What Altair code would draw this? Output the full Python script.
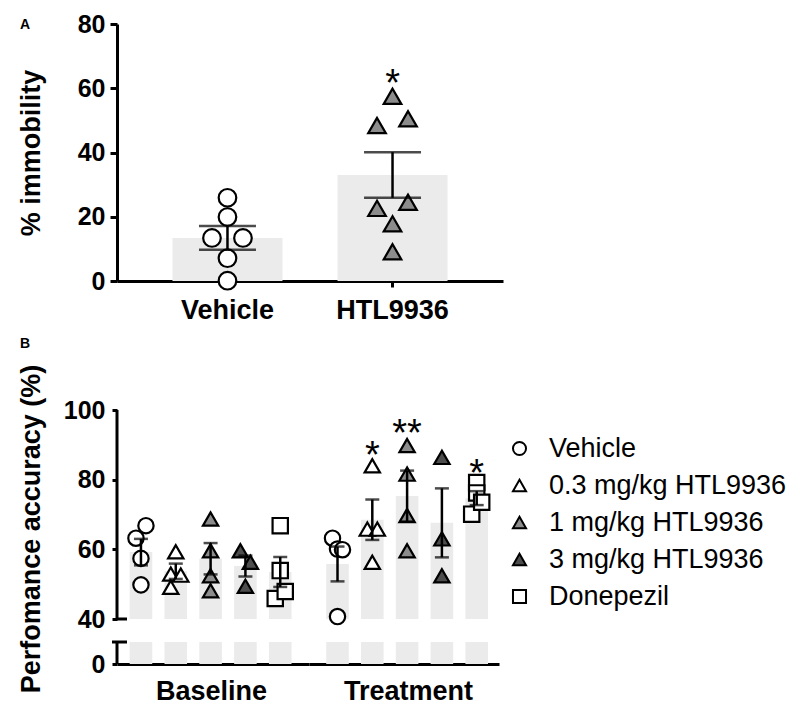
import altair as alt
import pandas as pd

FONT = "Liberation Sans"
BAR_COLOR = "#ebebeb"
MID_GRAY = "#8c8c8c"
DARK_GRAY = "#4d4d4d"

# ---------------- Panel A data ----------------
groups_a = ["Vehicle", "HTL9936"]
mean_a = [13.4, 33.0]
sem_a = [3.7, 7.1]
vehicle_a = [25.9, 19.9, 13.4, 13.4, 7.1, 0.1]
vehicle_a_slot = [0, 0, -1, 1, 0, 0]
htl_a = [57.5, 50.5, 48.4, 22.6, 24.5, 17.8, 9.1]
htl_a_slot = [0, 1, -1, -1, 1, 0, 0]
stars_a = ["", "*"]
stars_a_y = [None, 64.5]

# ---------------- Panel B data ----------------
phases = ["Baseline", "Treatment"]
treatments = ["Vehicle", "0.3 mg/kg HTL9936", "1 mg/kg HTL9936",
              "3 mg/kg HTL9936", "Donepezil"]
mean_base = [59.2, 53.7, 57.3, 55.2, 53.5]
sem_base = [3.8, 2.2, 4.5, 3.0, 4.3]
mean_treat = [55.8, 68.5, 75.3, 67.6, 74.7]
sem_treat = [5.0, 5.8, 7.3, 9.9, 2.0]
pts_base = [
    [66.8, 63.2, 57.4, 49.8],
    [59.3, 52.9, 52.6, 49.1],
    [68.7, 59.6, 52.4, 48.1],
    [59.6, 56.3, 49.4],
    [66.8, 53.9, 47.9, 45.9],
]
slots_base = [[1, -1, 0, 0], [0, -1, 1, -1], [0, 0, 0, 0], [-1, 1, 0], [0, 0, 1, -1]]
pts_treat = [
    [63.2, 60.1, 59.9, 40.7],
    [84.0, 65.8, 65.8, 56.3],
    [89.8, 81.6, 69.7, 59.6],
    [86.4, 63.0, 52.4],
    [79.2, 76.2, 73.5, 70.1],
]
slots_treat = [[-1, 0, 1, 0], [0, -1, 1, 0], [0, 0, 0, 0], [0, 0, 0], [0, 0, 1, -1]]
stars_treat = ["", "*", "**", "", "*"]
stars_treat_y = [None, 89.8, 96.0, None, 84.4]

# broken y axis of panel B: lower segment 0..6.4, upper segment 40..100
segment_lo = [0, 40]
segment_hi = [6.4, 100]
y_ticks_b = [0, 40, 60, 80, 100]

shape_range = ["circle", "triangle-up", "triangle-up", "triangle-up", "square"]
fill_range = ["white", "white", MID_GRAY, DARK_GRAY, "white"]

# ---------------- tables ----------------
bars_a_df = pd.DataFrame({"group": groups_a, "mean": mean_a, "sem": sem_a})
bars_a_df["lo"] = bars_a_df["mean"] - bars_a_df["sem"]
bars_a_df["hi"] = bars_a_df["mean"] + bars_a_df["sem"]
pts_a_df = pd.DataFrame({
    "group": ["Vehicle"] * len(vehicle_a) + ["HTL9936"] * len(htl_a),
    "value": vehicle_a + htl_a,
    "slot": vehicle_a_slot + htl_a_slot,
})
stars_a_df = pd.DataFrame({"group": groups_a, "label": stars_a, "y": stars_a_y}).dropna()

rows_bars, rows_pts, rows_stars = [], [], []
for ph, means, sems, pts, sl in [("Baseline", mean_base, sem_base, pts_base, slots_base),
                                 ("Treatment", mean_treat, sem_treat, pts_treat, slots_treat)]:
    for i, t in enumerate(treatments):
        rows_bars.append({"phase": ph, "treatment": t, "mean": means[i],
                          "lo": means[i] - sems[i], "hi": means[i] + sems[i]})
        for v, s in zip(pts[i], sl[i]):
            rows_pts.append({"phase": ph, "treatment": t, "value": v, "slot": s})
for i, t in enumerate(treatments):
    if stars_treat[i]:
        rows_stars.append({"phase": "Treatment", "treatment": t, "label": stars_treat[i],
                           "y": stars_treat_y[i]})
bars_b_df = pd.DataFrame(rows_bars)
pts_b_df = pd.DataFrame(rows_pts)
stars_b_df = pd.DataFrame(rows_stars)
segments_df = pd.DataFrame({"lo": segment_lo, "hi": segment_hi})

axis_common = dict(domainColor="black", domainWidth=3, tickColor="black", tickWidth=3,
                   labelColor="black", labelFont=FONT, labelFontWeight="bold",
                   titleFont=FONT, titleFontWeight="bold", titleColor="black", grid=False)

# ---------------- Panel A ----------------
xA = alt.X("group:N", sort=groups_a,
           scale=alt.Scale(domain=groups_a, paddingInner=1 / 3, paddingOuter=0.336),
           axis=alt.Axis(title=None, labelAngle=0, labelFontSize=27, tickSize=6,
                         labelPadding=10, **axis_common))
yA = alt.Y("mean:Q", scale=alt.Scale(domain=[0, 80], nice=False),
           axis=alt.Axis(values=[0, 20, 40, 60, 80], title="% immobility", titleFontSize=27,
                         labelFontSize=25, tickSize=7, labelPadding=5, titleX=-72,
                         **axis_common))

a_layers = [alt.Chart(bars_a_df).mark_bar(color=BAR_COLOR).encode(x=xA, y=yA)]
for s in (-1, 0, 1):
    a_layers.append(
        alt.Chart(pts_a_df).transform_filter(alt.datum.slot == s).mark_point(
            filled=True, stroke="black", strokeWidth=2.2, size=310, opacity=1,
            xOffset=s * 15.5).encode(
            x=alt.X("group:N", sort=groups_a), y="value:Q",
            shape=alt.Shape("group:N", scale=alt.Scale(domain=groups_a,
                                                       range=["circle", "triangle-up"]),
                            legend=None),
            fill=alt.Fill("group:N", scale=alt.Scale(domain=groups_a, range=["white", MID_GRAY]),
                          legend=None),
        ))
a_layers += [
    alt.Chart(bars_a_df).mark_rule(color="black", strokeWidth=2.5).encode(
        x=alt.X("group:N", sort=groups_a), y="lo:Q", y2="hi:Q"),
    alt.Chart(bars_a_df).mark_tick(color="black", size=57, thickness=2.5).encode(
        x=alt.X("group:N", sort=groups_a), y="hi:Q"),
    alt.Chart(bars_a_df).mark_tick(color="black", size=57, thickness=2.5).encode(
        x=alt.X("group:N", sort=groups_a), y="lo:Q"),
    alt.Chart(stars_a_df).mark_text(font=FONT, fontSize=38, color="black",
                                    baseline="alphabetic", dy=22).encode(
        x=alt.X("group:N", sort=groups_a), y="y:Q", text="label:N"),
]
panel_a = alt.layer(*a_layers).properties(
    width=386, height=257,
    title=alt.TitleParams("A", anchor="start", frame="group", dx=-97, dy=31, offset=0,
                          baseline="alphabetic", fontSize=14, font=FONT, fontWeight="bold",
                          color="black"),
)

# ---------------- Panel B ----------------
HB = 254
legend_b = alt.Legend(title=None, orient="none", legendX=389, legendY=25, padding=0,
                      labelFont=FONT, labelFontSize=27, labelColor="black", labelLimit=400,
                      symbolSize=170, symbolStrokeWidth=2, rowPadding=9, labelOffset=16)

shape_enc = alt.Shape("treatment:N", scale=alt.Scale(domain=treatments, range=shape_range),
                      legend=legend_b)
fill_enc = alt.Fill("treatment:N", scale=alt.Scale(domain=treatments, range=fill_range),
                    legend=legend_b)
stroke_enc = alt.Stroke("treatment:N", scale=alt.Scale(domain=treatments,
                                                       range=["black"] * len(treatments)),
                        legend=legend_b)

# piecewise scale: lower segment at the bottom, a gap, then the 40-100 segment
y_scale_b = alt.Scale(domain=[segment_lo[0], segment_hi[0], segment_lo[1], segment_hi[1]],
                      range=[HB, HB - 22, HB - 45, 0], nice=False, zero=False)

sub_panels = {
    # phase: (width, paddingOuter, align, x-title position)
    "Baseline": (192, 0.432, 0.42, 94),
    "Treatment": (190, 0.405, 0.61, 99),
}


def panel_phase(phase):
    w, po, al, tx = sub_panels[phase]
    first = phase == phases[0]
    xaxis = alt.Axis(title=phase, labels=False, ticks=False, tickSize=0, titleFontSize=27,
                     titlePadding=14, titleX=tx, titleAlign="center", **axis_common)
    yaxis = alt.Axis(values=y_ticks_b, title="Perfomance accuracy (%)", domain=False,
                     titleFontSize=27, labelFontSize=25, tickSize=5, labelPadding=7,
                     titleX=-72, titleY=118.5, **axis_common) if first else None
    bdf = bars_b_df[bars_b_df.phase == phase]
    pdf = pts_b_df[pts_b_df.phase == phase]
    X = alt.X("treatment:N", sort=treatments)
    layers = [
        alt.Chart(bdf).mark_bar(color=BAR_COLOR, size=22.6).encode(
            x=alt.X("treatment:N", sort=treatments,
                    scale=alt.Scale(domain=treatments, paddingInner=0.35, paddingOuter=po,
                                    align=al),
                    axis=xaxis),
            y=alt.Y("mean:Q", scale=y_scale_b, axis=yaxis),
            y2=alt.datum(segment_lo[1])),
        alt.Chart(bdf).mark_bar(color=BAR_COLOR, size=22.6).encode(
            x=X, y=alt.datum(segment_hi[0]), y2=alt.datum(segment_lo[0])),
    ]
    for s in (-1, 0, 1):
        layers.append(alt.Chart(pdf).transform_filter(alt.datum.slot == s).mark_point(
            filled=True, strokeWidth=2.2, size=235, opacity=1, xOffset=s * 5).encode(
            x=X, y="value:Q", shape=shape_enc, fill=fill_enc, stroke=stroke_enc))
    layers += [
        alt.Chart(bdf).mark_rule(color="black", strokeWidth=2.5).encode(
            x=X, y="lo:Q", y2="hi:Q"),
        alt.Chart(bdf).mark_tick(color="black", size=14, thickness=2.5).encode(
            x=X, y="hi:Q"),
        alt.Chart(bdf).mark_tick(color="black", size=14, thickness=2.5).encode(
            x=X, y="lo:Q"),
    ]
    sdf = stars_b_df[stars_b_df.phase == phase]
    if len(sdf):
        layers.append(alt.Chart(sdf).mark_text(font=FONT, fontSize=38, color="black",
                                               baseline="alphabetic", dy=22).encode(
            x=X, y="y:Q", text="label:N"))
    props = dict(width=w, height=HB)
    if first:
        # broken y-axis line segments and their end caps
        layers += [
            alt.Chart(segments_df).mark_rule(color="black", strokeWidth=3).encode(
                x=alt.value(0), y="lo:Q", y2="hi:Q"),
            alt.Chart(segments_df).mark_rule(color="black", strokeWidth=3).encode(
                y="hi:Q", x=alt.value(-5), x2=alt.value(10)).transform_filter(
                alt.datum.hi < segment_lo[1]),
            alt.Chart(segments_df).mark_rule(color="black", strokeWidth=3).encode(
                y="lo:Q", x=alt.value(0), x2=alt.value(10)).transform_filter(
                alt.datum.lo > segment_hi[0]),
        ]
        props["title"] = alt.TitleParams("B", anchor="start", frame="group", dx=-97, dy=-2,
                                         offset=0, baseline="alphabetic", fontSize=14,
                                         font=FONT, fontWeight="bold", color="black")
    return alt.layer(*layers).properties(**props)


panel_b = alt.hconcat(panel_phase("Baseline"), panel_phase("Treatment"),
                      spacing=0, bounds="flush")

chart = alt.vconcat(panel_a, panel_b, spacing=129, bounds="flush").resolve_scale(
    shape="independent", fill="independent", stroke="independent"
).configure_view(stroke=None).properties(
    padding={"left": 8, "top": 4, "right": 5, "bottom": 5}
)

chart.save("out.html", embed_options={"renderer": "svg", "actions": False})
